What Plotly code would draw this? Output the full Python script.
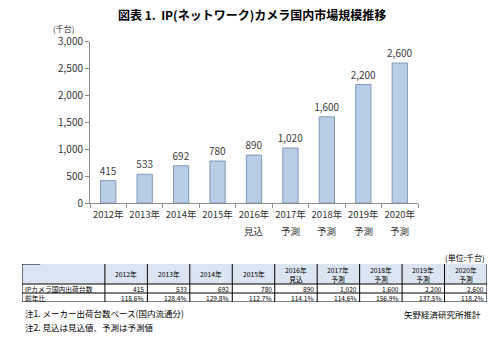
import plotly.graph_objects as go

# ---- data ----
years = ["2012年", "2013年", "2014年", "2015年", "2016年", "2017年", "2018年", "2019年", "2020年"]
year_notes = ["", "", "", "", "見込", "予測", "予測", "予測", "予測"]
shipments = [415, 533, 692, 780, 890, 1020, 1600, 2200, 2600]  # 千台
yoy = ["118.6%", "128.4%", "129.8%", "112.7%", "114.1%", "114.6%", "156.9%", "137.5%", "118.2%"]

title = "図表 1.  IP(ネットワーク)カメラ国内市場規模推移"
unit_axis = "(千台)"
unit_table = "(単位:千台)"
row_labels = ["IPカメラ国内出荷台数", "前年比"]
notes = ["注1. メーカー出荷台数ベース(国内流通分)", "注2. 見込は見込値、予測は予測値"]
source = "矢野経済研究所推計"

W, H = 501, 339
JP = "Noto Sans CJK JP"


def px_x(v):
    return v / W


def px_y(v):
    return 1 - v / H


fig = go.Figure()

fig.add_trace(go.Bar(
    x=years, y=shipments,
    marker=dict(color="#b9cde7", line=dict(color="#7f9ab9", width=1)),
    text=[f"{v:,}" for v in shipments],
    textposition="outside",
    constraintext="none",
    textfont=dict(family=JP, size=10, color="#404040"),
    cliponaxis=False,
    width=0.42,
    xaxis="x", yaxis="y",
))

annotations = []
# second line under the category labels (見込 / 予測)
for y, n in zip(years, year_notes):
    if n:
        annotations.append(dict(text=n, xref="x", yref="paper", x=y, y=px_y(231),
                                showarrow=False, xanchor="center", yanchor="middle",
                                font=dict(family=JP, size=9.5, color="#333333")))

# ---- table drawn on its own axis pair (x2: column widths, y2: row heights) ----
col_w = [83] + [42.5] * 9
row_h = [20, 9, 9]
col_edges = [0]
for w in col_w:
    col_edges.append(col_edges[-1] + w)
row_edges = [0]
for h in row_h:
    row_edges.append(row_edges[-1] + h)
tw, th = col_edges[-1], row_edges[-1]

shapes = []
# header fill
shapes.append(dict(type="rect", xref="x2", yref="y2", x0=0, x1=tw, y0=0, y1=row_edges[1],
                   fillcolor="#dbe5f1", line=dict(width=0), layer="below"))
# horizontal rules
for ye in row_edges[1:]:
    shapes.append(dict(type="line", xref="x2", yref="y2", x0=0, x1=tw, y0=ye, y1=ye,
                       line=dict(color="black", width=1)))
shapes.append(dict(type="line", xref="x2", yref="y2", x0=0, x1=col_edges[1] * 0.22, y0=0, y1=0,
                   line=dict(color="black", width=1)))
# vertical rules
for xe in col_edges:
    shapes.append(dict(type="line", xref="x2", yref="y2", x0=xe, x1=xe, y0=0, y1=th,
                       line=dict(color="black", width=1)))

header_vals = [y if n == "" else f"{y}<br>{n}" for y, n in zip(years, year_notes)]
for i, hv in enumerate(header_vals):
    annotations.append(dict(text=hv, xref="x2", yref="y2",
                            x=(col_edges[i + 1] + col_edges[i + 2]) / 2, y=row_h[0] / 2,
                            showarrow=False, xanchor="center", yanchor="middle",
                            font=dict(family=JP, size=6.8, color="black")))
for r, lab in enumerate(row_labels):
    annotations.append(dict(text=lab, xref="x2", yref="y2", x=1,
                            y=(row_edges[r + 1] + row_edges[r + 2]) / 2,
                            showarrow=False, xanchor="left", yanchor="middle",
                            font=dict(family=JP, size=6.8, color="black")))
table_rows = [[f"{v:,}" for v in shipments], yoy]
for r, row in enumerate(table_rows):
    for i, val in enumerate(row):
        annotations.append(dict(text=val, xref="x2", yref="y2", x=col_edges[i + 2] - 1,
                                y=(row_edges[r + 1] + row_edges[r + 2]) / 2,
                                showarrow=False, xanchor="right", yanchor="middle",
                                font=dict(family=JP, size=6.6, color="black")))

# ---- free text ----
annotations += [
    dict(text=f"<b>{title}</b>", x=0.502, y=px_y(14.5), xref="paper", yref="paper",
         xanchor="center", yanchor="middle",
         showarrow=False, font=dict(family=JP, size=12, color="black")),
    dict(text=unit_axis, x=px_x(64), y=px_y(29), xref="paper", yref="paper",
         xanchor="center", yanchor="middle",
         showarrow=False, font=dict(family=JP, size=8, color="#333333")),
    dict(text=unit_table, x=px_x(487), y=px_y(257), xref="paper", yref="paper",
         xanchor="right", yanchor="middle",
         showarrow=False, font=dict(family=JP, size=8, color="black")),
    dict(text=notes[0], x=px_x(23), y=px_y(313), xref="paper", yref="paper",
         xanchor="left", yanchor="middle",
         showarrow=False, font=dict(family=JP, size=8.5, color="black")),
    dict(text=notes[1], x=px_x(23), y=px_y(327), xref="paper", yref="paper",
         xanchor="left", yanchor="middle",
         showarrow=False, font=dict(family=JP, size=8.5, color="black")),
    dict(text=source, x=px_x(483), y=px_y(314), xref="paper", yref="paper",
         xanchor="right", yanchor="middle",
         showarrow=False, font=dict(family=JP, size=8.5, color="black")),
]

fig.update_layout(
    width=W, height=H,
    margin=dict(l=0, r=0, t=0, b=0, autoexpand=False),
    paper_bgcolor="white", plot_bgcolor="white",
    showlegend=False,
    xaxis=dict(
        domain=[px_x(90), px_x(418)],
        type="category", automargin=False,
        showline=True, linecolor="#8c8c8c", linewidth=1,
        ticks="outside", tickson="boundaries", ticklen=4, tickcolor="#8c8c8c",
        tickangle=0, ticklabelstandoff=3,
        tickfont=dict(family=JP, size=9.5, color="#333333"),
        showgrid=False,
    ),
    yaxis=dict(
        domain=[px_y(203), px_y(41.5)], automargin=False,
        range=[0, 3000], dtick=500, tickformat=",",
        showline=True, linecolor="#8c8c8c", linewidth=1,
        ticks="outside", ticklen=4, tickcolor="#8c8c8c",
        tickfont=dict(family=JP, size=10, color="#333333"),
        showgrid=False, zeroline=False,
    ),
    xaxis2=dict(domain=[px_x(22), px_x(487)], range=[0, tw], anchor="y2",
                visible=False, fixedrange=True),
    yaxis2=dict(domain=[px_y(264 + th), px_y(264)], range=[th, 0], anchor="x2",
                visible=False, fixedrange=True),
    shapes=shapes,
    annotations=annotations,
)

fig.write_html("out.html")
